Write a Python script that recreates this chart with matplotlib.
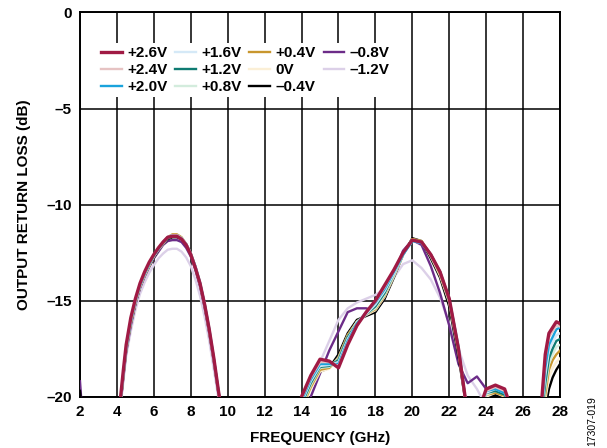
import matplotlib.pyplot as plt
import numpy as np

plt.rcParams['font.family'] = ['Liberation Sans', 'DejaVu Sans']

# frequency points (GHz), shared by all traces; values below -20 dB are off-axis
freq = [2.0, 2.1, 2.3,
        4.0, 4.2, 4.35, 4.5, 4.75, 5.0, 5.25, 5.5, 5.75, 6.0, 6.25, 6.5, 6.75, 7.0,
        7.25, 7.5, 7.75, 8.0, 8.25, 8.5, 8.75, 9.0, 9.25, 9.5, 9.7,
        13.8, 14.0, 14.5, 15.0, 15.5, 16.0, 16.5, 17.0, 17.5, 18.0, 18.5, 19.0, 19.5,
        20.0, 20.5, 21.0, 21.5, 22.0, 22.5, 23.0, 23.5, 24.0, 24.5, 25.0, 25.5,
        26.8, 27.0, 27.2, 27.4, 27.6, 27.8, 28.0]

labels = ['+2.6V', '+2.4V', '+2.0V', '+1.6V', '+1.2V', '+0.8V',
          '+0.4V', '0V', '\u20130.4V', '\u20130.8V', '\u20131.2V']
colors = ['#A01A44', '#E6C3C3', '#1AA3DC', '#D5E9F7', '#0F7B72', '#D3ECDD',
          '#C8962E', '#FBEFD6', '#000000', '#6C2C88', '#DCD0E8']

v_p26 = [-21.5, -21.5, -21.5,
         -21.5, -20.0, -18.6, -17.3, -15.9, -14.9, -14.1, -13.5, -13.0, -12.6, -12.25, -11.95, -11.7, -11.65,
         -11.65, -11.8, -12.1, -12.6, -13.3, -14.1, -15.2, -16.5, -18.0, -19.7, -21,
         -21, -20.0, -18.9, -18.05, -18.15, -18.5, -17.3, -16.3, -15.6, -15.0, -14.2, -13.4, -12.5,
         -11.85, -11.95, -12.6, -13.5, -14.9, -17.5, -21, -21, -19.6, -19.4, -19.6, -21,
         -21.5, -20.3, -17.8, -16.7, -16.4, -16.1, -16.2]
v_p24 = [-21.5, -21.5, -21.5,
         -21.5, -20.1, -18.7, -17.4, -16.0, -15.0, -14.15, -13.55, -13.05, -12.6, -12.25, -11.95, -11.7, -11.6,
         -11.6, -11.75, -12.05, -12.55, -13.25, -14.1, -15.2, -16.5, -18.05, -19.75, -21,
         -21, -20.1, -19.0, -18.2, -18.2, -18.4, -17.2, -16.3, -15.6, -15.05, -14.3, -13.4, -12.5,
         -11.85, -11.95, -12.6, -13.5, -14.9, -17.5, -21, -21, -19.7, -19.5, -19.7, -21,
         -21.5, -20.4, -18.0, -16.9, -16.6, -16.3, -16.35]
v_p20 = [-21.5, -21.5, -21.5,
         -21.5, -20.15, -18.75, -17.45, -16.05, -15.0, -14.2, -13.6, -13.1, -12.65, -12.3, -11.95, -11.7, -11.6,
         -11.6, -11.75, -12.05, -12.55, -13.2, -14.05, -15.15, -16.45, -18.0, -19.7, -21,
         -21, -20.2, -19.1, -18.3, -18.3, -18.3, -17.1, -16.2, -15.6, -15.1, -14.4, -13.5, -12.6,
         -11.9, -12.0, -12.6, -13.5, -14.9, -17.4, -21, -21, -19.7, -19.6, -19.8, -21,
         -21.5, -20.6, -18.5, -17.3, -16.9, -16.5, -16.4]
v_p16 = [-21.5, -21.5, -21.5,
         -21.5, -20.15, -18.8, -17.5, -16.05, -15.05, -14.2, -13.6, -13.1, -12.65, -12.3, -11.95, -11.7, -11.6,
         -11.6, -11.75, -12.05, -12.55, -13.25, -14.1, -15.2, -16.55, -18.05, -19.7, -21,
         -21, -20.3, -19.2, -18.4, -18.35, -18.2, -17.0, -16.2, -15.7, -15.2, -14.5, -13.6, -12.6,
         -11.9, -12.0, -12.6, -13.5, -14.9, -17.4, -21, -21, -19.8, -19.6, -19.8, -21,
         -21.5, -20.8, -18.9, -17.6, -17.2, -16.8, -16.7]
v_p12 = [-21.5, -21.5, -21.5,
         -21.5, -20.2, -18.8, -17.5, -16.1, -15.05, -14.2, -13.6, -13.1, -12.65, -12.3, -12.0, -11.75, -11.65,
         -11.65, -11.8, -12.1, -12.6, -13.3, -14.1, -15.2, -16.55, -18.05, -19.7, -21,
         -21, -20.4, -19.3, -18.45, -18.4, -18.1, -16.9, -16.2, -15.7, -15.3, -14.6, -13.6, -12.6,
         -11.85, -11.95, -12.6, -13.5, -14.95, -17.5, -21, -21, -19.8, -19.7, -19.9, -21,
         -21.5, -21.0, -19.3, -18.0, -17.5, -17.1, -17.0]
v_p08 = [-21.5, -21.5, -21.5,
         -21.5, -20.2, -18.85, -17.55, -16.1, -15.1, -14.25, -13.65, -13.1, -12.7, -12.3, -12.0, -11.7, -11.6,
         -11.6, -11.75, -12.05, -12.55, -13.25, -14.1, -15.2, -16.6, -18.1, -19.75, -21,
         -21, -20.5, -19.4, -18.5, -18.45, -18.05, -16.9, -16.1, -15.7, -15.4, -14.7, -13.7, -12.6,
         -11.85, -11.95, -12.6, -13.5, -15.0, -17.5, -21, -21, -19.9, -19.7, -19.9, -21,
         -21.5, -21.2, -19.6, -18.3, -17.8, -17.4, -17.3]
v_p04 = [-21.5, -21.5, -21.5,
         -21.5, -20.2, -18.85, -17.55, -16.15, -15.1, -14.25, -13.65, -13.15, -12.7, -12.3, -12.0, -11.7, -11.55,
         -11.55, -11.7, -12.05, -12.55, -13.25, -14.1, -15.2, -16.6, -18.1, -19.75, -21,
         -21, -20.6, -19.5, -18.6, -18.5, -18.0, -16.8, -16.1, -15.7, -15.45, -14.75, -13.7, -12.6,
         -11.8, -11.9, -12.6, -13.6, -15.0, -17.6, -21, -21, -19.9, -19.8, -19.95, -21,
         -21.5, -21.4, -19.9, -18.6, -18.1, -17.8, -17.6]
v_0 = [-21.5, -21.5, -21.5,
       -21.5, -20.25, -18.9, -17.6, -16.2, -15.1, -14.3, -13.7, -13.2, -12.7, -12.35, -12.05, -11.75, -11.65,
       -11.65, -11.8, -12.1, -12.6, -13.3, -14.15, -15.25, -16.6, -18.1, -19.8, -21,
       -21, -20.7, -19.6, -18.7, -18.55, -17.95, -16.8, -16.1, -15.75, -15.5, -14.8, -13.75, -12.6,
       -11.8, -11.9, -12.7, -13.7, -15.1, -17.7, -21, -21, -20.0, -19.8, -20.0, -21,
       -21.5, -21.5, -20.2, -19.0, -18.5, -18.2, -18.0]
v_m04 = [-19.7, -20.6, -21.5,
         -21.5, -20.3, -18.9, -17.6, -16.2, -15.15, -14.3, -13.7, -13.2, -12.75, -12.35, -12.05, -11.8, -11.7,
         -11.7, -11.8, -12.1, -12.6, -13.3, -14.15, -15.25, -16.6, -18.1, -19.8, -21,
         -21, -20.8, -19.3, -18.7, -18.5, -17.8, -16.7, -16.0, -15.8, -15.6, -14.9, -13.8, -12.6,
         -11.75, -11.9, -12.8, -13.8, -15.3, -17.9, -21, -21, -20.1, -19.9, -20.1, -21,
         -21.5, -21.5, -20.6, -19.6, -19.0, -18.6, -18.3]
v_m08 = [-19.2, -20.6, -21.5,
         -21.5, -20.35, -19.0, -17.7, -16.3, -15.2, -14.35, -13.75, -13.25, -12.8, -12.45, -12.1, -11.9, -11.85,
         -11.85, -11.95, -12.25, -12.7, -13.4, -14.25, -15.35, -16.7, -18.2, -19.85, -21,
         -21.5, -21.3, -20.0, -18.8, -17.6, -16.6, -15.6, -15.4, -15.4, -15.55, -14.9, -13.6, -12.4,
         -11.85, -12.1, -13.2, -14.6, -16.3, -18.3, -19.3, -18.95, -19.6, -21, -21, -21,
         -21.5, -21.5, -21.5, -21.5, -21.5, -21.5, -21.5]
v_m12 = [-21.5, -21.5, -21.5,
         -21.5, -20.5, -19.2, -17.9, -16.6, -15.5, -14.65, -14.05, -13.55, -13.15, -12.8, -12.55, -12.35, -12.3,
         -12.3, -12.45, -12.75, -13.2, -13.9, -14.75, -15.85, -17.1, -18.6, -20.1, -21.2,
         -21, -20.6, -19.3, -18.2, -17.1, -16.0, -15.4, -15.1, -14.9, -14.7, -14.4, -13.8, -13.1,
         -12.9, -13.3, -13.9, -14.85, -16.2, -17.5, -18.9, -19.6, -20.5, -21, -21, -21,
         -21.5, -21.5, -21.5, -21.5, -21.5, -21.5, -21.5]

series = [v_p26, v_p24, v_p20, v_p16, v_p12, v_p08, v_p04, v_0, v_m04, v_m08, v_m12]

fig = plt.figure(figsize=(6.07, 4.48), dpi=100)
ax = fig.add_axes([0.1318, 0.1146, 0.7908, 0.8575])

handles = [None] * len(series)
for i in reversed(range(len(series))):
    lw = 2.4 if i == 0 else 1.7
    ln, = ax.plot(freq, series[i], color=colors[i], lw=lw, label=labels[i],
                  solid_joinstyle='round', zorder=3 + (len(series) - i) * 0.01)
    handles[i] = ln

ax.set_xlim(2, 28)
ax.set_ylim(-20, 0)
ax.set_xticks(np.arange(2, 29, 2))
ax.set_yticks([0, -5, -10, -15, -20])
ax.set_yticklabels(['0', '\u20135', '\u201310', '\u201315', '\u201320'])
ax.grid(True, color='black', lw=1.1)
ax.set_axisbelow(True)
ax.tick_params(length=0, labelsize=11, pad=6)
for lab in ax.get_xticklabels() + ax.get_yticklabels():
    lab.set_fontweight('bold')
for s in ax.spines.values():
    s.set_linewidth(1.4)

ax.set_xlabel('FREQUENCY (GHz)', fontsize=11, fontweight='bold', labelpad=9)
ax.set_ylabel('OUTPUT RETURN LOSS (dB)', fontsize=11, fontweight='bold', labelpad=11)

leg = ax.legend(handles=handles, ncol=4, loc='upper left', bbox_to_anchor=(0.0375, 0.921),
                prop={'weight': 'bold', 'size': 11}, handlelength=1.35, handletextpad=0.37,
                columnspacing=0.5, labelspacing=0.2, borderpad=0.2, borderaxespad=0,
                frameon=True, fancybox=False, framealpha=1)
leg.get_frame().set_edgecolor('none')
leg.set_zorder(10)

fig.text(0.975, 0.06, '17307-019', rotation=90, fontsize=7.5, ha='center', va='center')

fig.savefig('out.png', dpi=100)
